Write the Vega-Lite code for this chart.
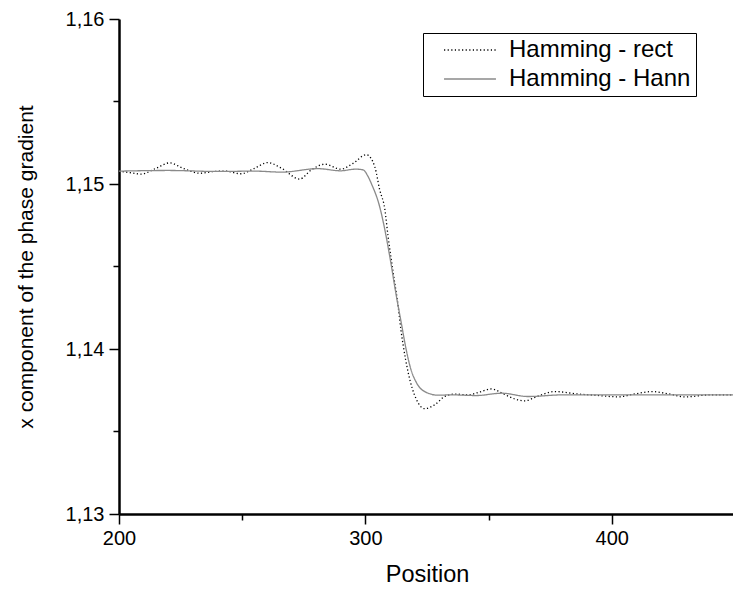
{
  "$schema": "https://vega.github.io/schema/vega-lite/v6.json",
  "width": 616,
  "height": 495,
  "autosize": {"type": "none"},
  "padding": {"left": 119, "top": 19, "right": 0, "bottom": 78},
  "background": "white",
  "config": {
    "view": {"stroke": null},
    "font": "Liberation Sans",
    "axis": {
      "grid": false,
      "domainColor": "black",
      "domainWidth": 2.5,
      "tickColor": "black",
      "tickWidth": 1.5,
      "labelColor": "black",
      "titleColor": "black",
      "labelFont": "Liberation Sans",
      "titleFont": "Liberation Sans",
      "labelFontSize": 20,
      "titleFontWeight": "normal"
    },
    "legend": {
      "orient": "none",
      "legendX": 304,
      "legendY": 14,
      "strokeColor": "black",
      "fillColor": "white",
      "padding": 5,
      "symbolOffset": 30,
      "labelFontSize": 24,
      "labelFont": "Liberation Sans",
      "labelColor": "black",
      "labelOffset": 27,
      "labelLimit": 0,
      "rowPadding": 5,
      "symbolType": "M-2.36,0H2.36",
      "symbolSize": 484,
      "symbolStrokeWidth": 1.3,
      "title": null
    }
  },
  "data": {
    "values": [
      {"x": 200, "y": 1.15078, "s": "Hamming - rect"},
      {"x": 204, "y": 1.1507, "s": "Hamming - rect"},
      {"x": 209, "y": 1.1506, "s": "Hamming - rect"},
      {"x": 215, "y": 1.15095, "s": "Hamming - rect"},
      {"x": 220.5, "y": 1.15128, "s": "Hamming - rect"},
      {"x": 226, "y": 1.15095, "s": "Hamming - rect"},
      {"x": 233, "y": 1.15065, "s": "Hamming - rect"},
      {"x": 238, "y": 1.15075, "s": "Hamming - rect"},
      {"x": 243, "y": 1.15078, "s": "Hamming - rect"},
      {"x": 249.5, "y": 1.15062, "s": "Hamming - rect"},
      {"x": 255, "y": 1.15095, "s": "Hamming - rect"},
      {"x": 260.4, "y": 1.1513, "s": "Hamming - rect"},
      {"x": 266, "y": 1.15095, "s": "Hamming - rect"},
      {"x": 273.3, "y": 1.1503, "s": "Hamming - rect"},
      {"x": 278, "y": 1.15085, "s": "Hamming - rect"},
      {"x": 283.5, "y": 1.1512, "s": "Hamming - rect"},
      {"x": 290, "y": 1.1509, "s": "Hamming - rect"},
      {"x": 295, "y": 1.15125, "s": "Hamming - rect"},
      {"x": 300.4, "y": 1.15178, "s": "Hamming - rect"},
      {"x": 303.8, "y": 1.15105, "s": "Hamming - rect"},
      {"x": 305.8, "y": 1.14965, "s": "Hamming - rect"},
      {"x": 307.9, "y": 1.14845, "s": "Hamming - rect"},
      {"x": 309.2, "y": 1.14682, "s": "Hamming - rect"},
      {"x": 311.3, "y": 1.1446, "s": "Hamming - rect"},
      {"x": 313.3, "y": 1.14258, "s": "Hamming - rect"},
      {"x": 314.4, "y": 1.14118, "s": "Hamming - rect"},
      {"x": 315.3, "y": 1.14026, "s": "Hamming - rect"},
      {"x": 317.4, "y": 1.13855, "s": "Hamming - rect"},
      {"x": 320.7, "y": 1.13694, "s": "Hamming - rect"},
      {"x": 324.1, "y": 1.13638, "s": "Hamming - rect"},
      {"x": 328.2, "y": 1.13663, "s": "Hamming - rect"},
      {"x": 332.3, "y": 1.13713, "s": "Hamming - rect"},
      {"x": 336.3, "y": 1.13727, "s": "Hamming - rect"},
      {"x": 341.8, "y": 1.13722, "s": "Hamming - rect"},
      {"x": 346, "y": 1.13738, "s": "Hamming - rect"},
      {"x": 351.2, "y": 1.13758, "s": "Hamming - rect"},
      {"x": 356, "y": 1.13728, "s": "Hamming - rect"},
      {"x": 360.7, "y": 1.13697, "s": "Hamming - rect"},
      {"x": 364.8, "y": 1.13686, "s": "Hamming - rect"},
      {"x": 368.8, "y": 1.13707, "s": "Hamming - rect"},
      {"x": 376.9, "y": 1.13742, "s": "Hamming - rect"},
      {"x": 386.4, "y": 1.13727, "s": "Hamming - rect"},
      {"x": 393, "y": 1.1372, "s": "Hamming - rect"},
      {"x": 402.7, "y": 1.1371, "s": "Hamming - rect"},
      {"x": 409.5, "y": 1.13728, "s": "Hamming - rect"},
      {"x": 416.3, "y": 1.13742, "s": "Hamming - rect"},
      {"x": 423, "y": 1.13728, "s": "Hamming - rect"},
      {"x": 429.8, "y": 1.1371, "s": "Hamming - rect"},
      {"x": 440, "y": 1.13722, "s": "Hamming - rect"},
      {"x": 450, "y": 1.13722, "s": "Hamming - rect"},
      {"x": 200, "y": 1.15078, "s": "Hamming - Hann"},
      {"x": 220, "y": 1.15082, "s": "Hamming - Hann"},
      {"x": 240, "y": 1.15076, "s": "Hamming - Hann"},
      {"x": 255, "y": 1.15078, "s": "Hamming - Hann"},
      {"x": 266, "y": 1.15072, "s": "Hamming - Hann"},
      {"x": 280.8, "y": 1.15093, "s": "Hamming - Hann"},
      {"x": 290, "y": 1.1508, "s": "Hamming - Hann"},
      {"x": 296, "y": 1.1509, "s": "Hamming - Hann"},
      {"x": 299, "y": 1.15086, "s": "Hamming - Hann"},
      {"x": 301.1, "y": 1.15045, "s": "Hamming - Hann"},
      {"x": 302.4, "y": 1.15003, "s": "Hamming - Hann"},
      {"x": 305.8, "y": 1.14862, "s": "Hamming - Hann"},
      {"x": 307.9, "y": 1.14722, "s": "Hamming - Hann"},
      {"x": 309.9, "y": 1.1456, "s": "Hamming - Hann"},
      {"x": 312.6, "y": 1.14318, "s": "Hamming - Hann"},
      {"x": 314.6, "y": 1.14155, "s": "Hamming - Hann"},
      {"x": 316.5, "y": 1.14, "s": "Hamming - Hann"},
      {"x": 318.5, "y": 1.13875, "s": "Hamming - Hann"},
      {"x": 320.5, "y": 1.13802, "s": "Hamming - Hann"},
      {"x": 322.3, "y": 1.13762, "s": "Hamming - Hann"},
      {"x": 324.3, "y": 1.1374, "s": "Hamming - Hann"},
      {"x": 326.5, "y": 1.13727, "s": "Hamming - Hann"},
      {"x": 329, "y": 1.1372, "s": "Hamming - Hann"},
      {"x": 335, "y": 1.13722, "s": "Hamming - Hann"},
      {"x": 345, "y": 1.13718, "s": "Hamming - Hann"},
      {"x": 355.3, "y": 1.13732, "s": "Hamming - Hann"},
      {"x": 366.1, "y": 1.13712, "s": "Hamming - Hann"},
      {"x": 380, "y": 1.13722, "s": "Hamming - Hann"},
      {"x": 410, "y": 1.13722, "s": "Hamming - Hann"},
      {"x": 450, "y": 1.13722, "s": "Hamming - Hann"}
    ]
  },
  "mark": {"type": "line", "interpolate": "monotone", "strokeWidth": 1.3, "clip": true},
  "encoding": {
    "x": {
      "field": "x",
      "type": "quantitative",
      "scale": {"domain": [200, 450], "nice": false, "zero": false},
      "axis": {
        "title": "Position",
        "titleFontSize": 23.5,
        "values": [200, 250, 300, 350, 400],
        "labelExpr": "datum.value % 100 == 0 ? datum.label : ''",
        "tickSize": {"condition": {"test": "datum.value % 100 == 0", "value": 10}, "value": 6},
        "labelPadding": 4,
        "titlePadding": 14,
        "labelFlush": false
      }
    },
    "y": {
      "field": "y",
      "type": "quantitative",
      "scale": {"domain": [1.13, 1.16], "nice": false, "zero": false},
      "axis": {
        "title": "x component of the phase gradient",
        "titleFontSize": 21,
        "values": [1.13, 1.135, 1.14, 1.145, 1.15, 1.155, 1.16],
        "labelExpr": "round(datum.value * 1000) % 10 == 0 ? replace(format(datum.value, '.2f'), '.', ',') : ''",
        "tickSize": {"condition": {"test": "round(datum.value * 1000) % 10 == 0", "value": 10}, "value": 6},
        "labelPadding": 5,
        "titlePadding": 29,
        "labelFlush": false
      }
    },
    "color": {
      "field": "s",
      "type": "nominal",
      "scale": {"domain": ["Hamming - rect", "Hamming - Hann"], "range": ["black", "#8a8a8a"]},
      "legend": {"title": null}
    },
    "strokeDash": {
      "field": "s",
      "type": "nominal",
      "scale": {"domain": ["Hamming - rect", "Hamming - Hann"], "range": [[1.2, 2.4], [1, 0]]},
      "legend": {"title": null}
    }
  }
}
